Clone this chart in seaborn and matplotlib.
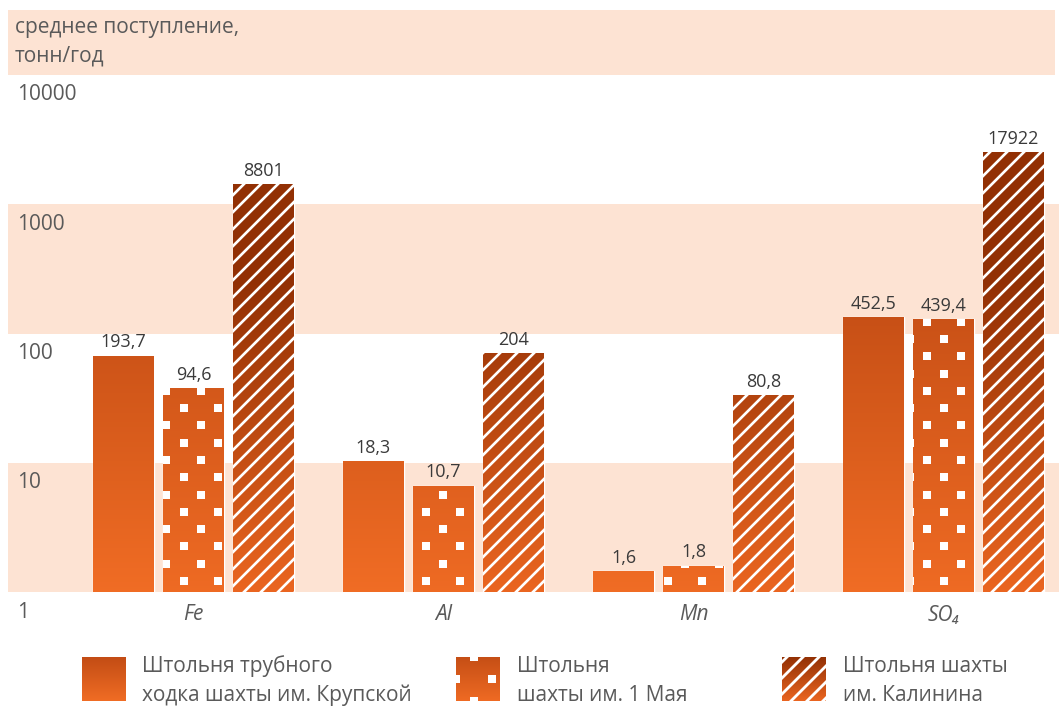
import numpy as np
import pandas as pd
import matplotlib
matplotlib.use("Agg")
import matplotlib.pyplot as plt
import seaborn as sns
from matplotlib.patches import Rectangle
from matplotlib.ticker import NullLocator
from matplotlib.transforms import ScaledTranslation

# ---- data -------------------------------------------------------------
elements = ["Fe", "Al", "Mn", "SO₄"]
sources = [
    "Штольня трубного\nходка шахты им. Крупской",
    "Штольня\nшахты им. 1 Мая",
    "Штольня шахты\nим. Калинина",
]
krupskaya = [193.7, 18.3, 1.6, 452.5]
may_first = [94.6, 10.7, 1.8, 439.4]
kalinin = [8801, 204, 80.8, 17922]
axis_ticks = [1, 10, 100, 1000, 10000]
axis_tick_labels = ["1", "10", "100", "1000", "10000"]
y_title = "среднее поступление,\nтонн/год"

# ---- style ------------------------------------------------------------
sns.set_theme(style="white")
plt.rcParams["font.family"] = ["Open Sans", "DejaVu Sans"]

BAND = "#fde3d3"
TEXT = "#5a5a5a"
VALUE_TEXT = "#3a3a3a"
# (top colour, bottom colour) of the vertical gradient of each series
GRADIENTS = [
    ((194, 76, 20), (240, 108, 36)),
    ((197, 78, 21), (238, 106, 35)),
    ((146, 48, 4), (234, 101, 32)),
]
PATTERNS = [None, "dots", "stripes"]

W, H = 1059, 706
fig = plt.figure(figsize=(W / 100, H / 100), dpi=100)
fig.patch.set_facecolor("white")


def fy(py):
    """figure fraction from a pixel row counted from the top"""
    return 1 - py / H


ax_rect = [8 / W, fy(592), (W - 8) / W, 517 / H]

# background axis: decade bands and the value scale labels
ax_bg = fig.add_axes(ax_rect, zorder=0)
ax_bg.set_axisbelow(False)
ax_bg.set_yscale("log")
ax_bg.set_ylim(axis_ticks[0], axis_ticks[-1])
ax_bg.set_xlim(0, 1)
for lo, hi in [(1, 10), (100, 1000)]:
    ax_bg.axhspan(lo, hi, color=BAND, lw=0, zorder=0.2)
ax_bg.set_xticks([])
ax_bg.yaxis.set_minor_locator(NullLocator())
ax_bg.set_yticks(axis_ticks, axis_tick_labels)
ax_bg.tick_params(axis="y", length=0, pad=-6.5, labelsize=15, labelcolor=TEXT)
shift = ScaledTranslation(0, -20 / 100, fig.dpi_scale_trans)
for lbl in ax_bg.get_yticklabels():
    lbl.set_ha("left")
    lbl.set_va("center")
    lbl.set_transform(lbl.get_transform() + shift)
for s in ax_bg.spines.values():
    s.set_visible(False)
ax_bg.patch.set_alpha(0)

# header band with the unit title
fig.add_artist(Rectangle((8 / W, fy(75)), 1047 / W, 65 / H,
                         transform=fig.transFigure, color=BAND, lw=0, zorder=0))
fig.text(15 / W, fy(42), y_title, fontsize=15, color=TEXT, va="center",
         ha="left", linespacing=1.45)

# ---- bars -------------------------------------------------------------
ax = fig.add_axes(ax_rect, zorder=1)
ax.patch.set_alpha(0)
ax.set_yscale("log")

df = pd.DataFrame({
    "element": elements * 3,
    "source": np.repeat(sources, len(elements)),
    "value": krupskaya + may_first + kalinin,
})
mid_colors = ["#%02x%02x%02x" % tuple((np.array(t) + np.array(b)) // 2) for t, b in GRADIENTS]
sns.barplot(data=df, x="element", y="value", hue="source", hue_order=sources,
            palette=mid_colors, width=0.84, gap=0.14, errorbar=None,
            saturation=1, legend=False, ax=ax)

ax.set_xlim(-0.742, 3.462)
ax.set_ylim(1, 1e5)
ax.set_xlabel("")
ax.set_ylabel("")
ax.set_yticks([])
ax.yaxis.set_minor_locator(NullLocator())
ax.set_xticks(range(len(elements)))
ax.set_xticklabels(elements, fontstyle="italic", fontsize=15, color=TEXT)
ax.tick_params(axis="x", length=0, pad=9)
for s in ax.spines.values():
    s.set_visible(False)


def fmt(v):
    return f"{v:g}".replace(".", ",")


for cont, vals in zip(ax.containers, [krupskaya, may_first, kalinin]):
    ax.bar_label(cont, labels=[fmt(v) for v in vals], padding=3,
                 fontsize=13, color=VALUE_TEXT)


# ---- textured fills ----------------------------------------------------
def texture(x0, y0, w, h, grad, base, span, pattern=None, dots=None, stripes=None):
    top = np.array(grad[0], float) / 255
    bottom = np.array(grad[1], float) / 255
    yy = y0 + (h - 1 - np.arange(h)) + 0.5
    xx = x0 + np.arange(w) + 0.5
    t = np.clip((yy - base) / span, 0, 1)[:, None, None]
    img = np.broadcast_to(bottom + (top - bottom) * t, (h, w, 3)).copy()
    X, Y = np.meshgrid(xx, yy)
    if pattern == "dots":
        px, py, size, rx, ry, parity = dots
        i = np.round((X - rx) / px)
        k = np.round((Y - ry) / py)
        dx = X - rx - i * px
        dy = Y - ry - k * py
        mask = (np.abs(dx) < size / 2) & (np.abs(dy) < size / 2) & (np.mod(i + k, 2) == parity)
        img[mask] = 1.0
    elif pattern == "stripes":
        pitch, halfw, phase = stripes
        u = np.mod(X - Y - phase, pitch)
        d = np.minimum(u, pitch - u) / np.sqrt(2)
        cov = np.clip(halfw + 0.5 - d, 0, 1)[..., None]
        img = img * (1 - cov) + cov
    return (img * 255).round().astype(np.uint8)


fig.canvas.draw()
renderer = fig.canvas.get_renderer()
ax_x0, ax_y0 = ax.bbox.x0, ax.bbox.y0
bar_dots = (17.28, 17.28, 8, ax_x0 + 158.5, ax_y0 + 11, 1)
bar_stripes = (17.0, 1.3, ax_x0 + 3)

for cont, grad, pat in zip(ax.containers, GRADIENTS, PATTERNS):
    for patch in cont.patches:
        bb = patch.get_window_extent(renderer)
        x0, x1 = int(round(bb.x0)), int(round(bb.x1))
        y0 = int(round(max(bb.y0, ax_y0)))
        y1 = int(round(bb.y1))
        img = texture(x0, y0, x1 - x0, y1 - y0, grad, ax_y0, 310, pat,
                      dots=bar_dots, stripes=bar_stripes)
        fig.figimage(img, xo=x0, yo=y0, origin="upper", zorder=2)

# ---- legend -----------------------------------------------------------
legend_x = [82, 456, 782]
text_x = [142, 517, 843]
sw = 44
for lx, tx, grad, pat, label in zip(legend_x, text_x, GRADIENTS, PATTERNS, sources):
    yo = H - 701
    img = texture(lx, yo, sw, sw, grad, yo, sw, pat,
                  dots=(18, 22, 9, lx + 18, yo + sw, 0),
                  stripes=(16.0, 1.4, lx + 4))
    fig.figimage(img, xo=lx, yo=yo, origin="upper", zorder=2)
    fig.text(tx / W, fy(681), label, fontsize=15, color=TEXT,
             va="center", ha="left", linespacing=1.45)

fig.savefig("out.png", dpi=100, facecolor="white")
